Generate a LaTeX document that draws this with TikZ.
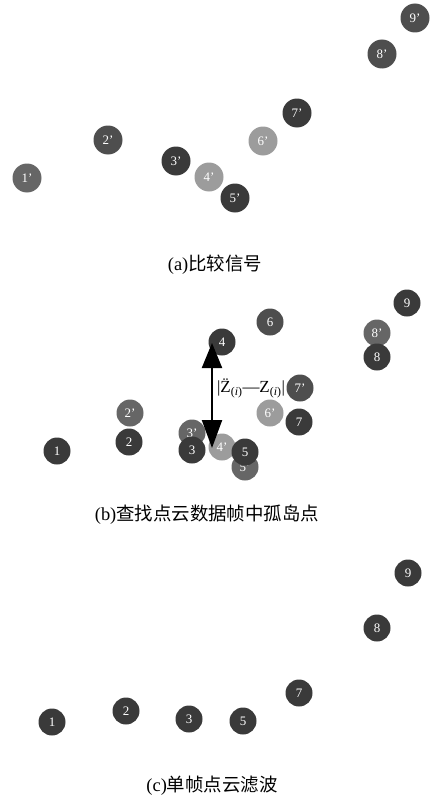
\documentclass[tikz,border=0pt]{standalone}
\usepackage{fontspec}
\setmainfont{Liberation Serif}
\newfontfamily\cjk{Noto Sans CJK SC}
\usetikzlibrary{arrows.meta}
\definecolor{pdark}{HTML}{3A3A3A}
\definecolor{pdarkb}{HTML}{4E4E4E}
\definecolor{pmid}{HTML}{666666}
\definecolor{plight}{HTML}{9C9C9C}
\begin{document}
\begin{tikzpicture}[x=1bp,y=-1bp,
  pt/.style={circle,minimum size=27bp,inner sep=0pt,text=white,font=\fontsize{13}{13}\selectfont},
  pta/.style={pt,minimum size=29bp},
  dk/.style={fill=pdark},
  dkb/.style={fill=pdarkb},
  md/.style={fill=pmid},
  lt/.style={fill=plight},
  captext/.style={font=\fontsize{18.5}{18.5}\selectfont}]
\useasboundingbox (0,0) rectangle (430,801);
% panel (a)
\node[pta,md]  (a1) at (27,178) {1'};
\node[pta,dkb] (a2) at (108,140) {2'};
\node[pta,dk]  (a3) at (176,161) {3'};
\node[pta,lt]  (a4) at (209,177) {4'};
\node[pta,dk]  (a5) at (235,198) {5'};
\node[pta,lt]  (a6) at (263,141) {6'};
\node[pta,dk]  (a7) at (297,113) {7'};
\node[pta,dkb] (a8) at (382,54) {8'};
\node[pta,dkb] (a9) at (415,18) {9'};
\node[captext] (capa) at (215,265) {(a){\cjk 比较信号}};
% panel (b)
\node[pt,dk]  (b9)  at (407,303) {9};
\node[pt,md]  (b8p) at (377,333) {8'};
\node[pt,dk]  (b8)  at (377,357) {8};
\node[pt,dkb] (b6)  at (270,322) {6};
\node[pt,dk]  (b4)  at (222,342) {4};
\node[pt,dkb] (b7p) at (300,388) {7'};
\node[pt,lt]  (b6p) at (270,413) {6'};
\node[pt,dk]  (b7)  at (299,422) {7};
\node[pt,md]  (b2p) at (130,413) {2'};
\node[pt,dk]  (b2)  at (129,442) {2};
\node[pt,dk]  (b1)  at (57,451) {1};
\node[pt,md]  (b3p) at (192,433) {3'};
\node[pt,dk]  (b3)  at (192,450) {3};
\node[pt,lt]  (b4p) at (222,447) {4'};
\node[pt,md]  (b5p) at (245,467) {5'};
\node[pt,dk]  (b5)  at (245,452) {5};
\coordinate (atop) at (212,343);
\coordinate (abot) at (212,448);
\draw[line width=2.2pt,{Triangle[length=25bp,width=20bp]}-{Triangle[length=28bp,width=20bp]}] (atop) -- (abot);
\node[font=\fontsize{17}{17}\selectfont,inner sep=0pt] (zl) at (251,388) {\textbar\"{Z}\textsubscript{(\textit{i})}—Z\textsubscript{(\textit{i})}\textbar};
\node[captext] (capb) at (207,515) {(b){\cjk 查找点云数据帧中孤岛点}};
% panel (c)
\node[pt,dk] (c9) at (408,573) {9};
\node[pt,dk] (c8) at (377,628) {8};
\node[pt,dk] (c7) at (299,693) {7};
\node[pt,dk] (c2) at (126,711) {2};
\node[pt,dk] (c1) at (52,722) {1};
\node[pt,dk] (c3) at (189,719) {3};
\node[pt,dk] (c5) at (243,721) {5};
\node[captext] (capc) at (212,786) {(c){\cjk 单帧点云滤波}};
\end{tikzpicture}
\end{document}
